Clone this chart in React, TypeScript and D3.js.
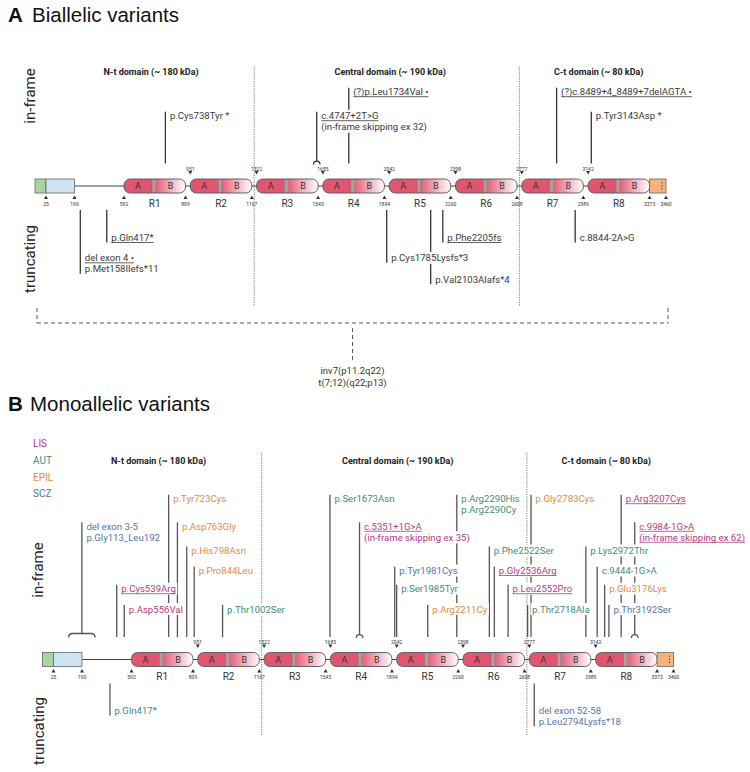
import React from 'react';
import * as d3 from 'd3';

const FONT = 'Roboto, "Noto Sans", "DejaVu Sans", sans-serif';
const TITLE_FONT = '"Liberation Sans", Arial, Helvetica, sans-serif';

// ---------- protein schematic data ----------
const aaBreaks = [1, 25, 190, 592, 809, 951, 1167, 1322, 1545, 1685, 1894, 2042, 2260, 2398, 2608, 2777, 2989, 3142, 3373, 3460];
const repeatNames = ['R1', 'R2', 'R3', 'R4', 'R5', 'R6', 'R7', 'R8'];
const repeatStarts = [592, 951, 1322, 1685, 2042, 2398, 2777, 3142];
const repeatEnds = [809, 1167, 1545, 1894, 2260, 2608, 2989, 3373];
const topTicks = [951, 1322, 1685, 2042, 2398, 2777, 3142];
const bottomTicks = [25, 190, 592, 809, 1167, 1545, 1894, 2260, 2608, 2989, 3373, 3460];
const domainTitles = ['N-t domain (~ 180 kDa)', 'Central domain (~ 190 kDa)', 'C-t domain (~ 80 kDa)'];
const domainSplits = [[1167, 1322], [2608, 2777]];

// ---------- categories ----------
const categories = ['LIS', 'AUT', 'EPIL', 'SCZ'];
const categoryColors = ['#b63a80', '#3f8c78', '#e38a3c', '#5a73a8'];

type Variant = { lines: string[]; pos?: number; span?: [number, number]; tier: number; cat?: string; ul?: number; splice?: boolean };

// ---------- A: biallelic ----------
const biallelicInFrame: Variant[] = [
  { lines: ['p.Cys738Tyr *'], pos: 738, tier: 1 },
  { lines: ['(?)p.Leu1734Val •'], pos: 1773, tier: 0, ul: 1 },
  { lines: ['c.4747+2T>G', '(in-frame skipping ex 32)'], pos: 1540, tier: 1, ul: 1, splice: true },
  { lines: ['(?)c.8489+4_8489+7delAGTA •'], pos: 2897, tier: 0, ul: 1 },
  { lines: ['p.Tyr3143Asp *'], pos: 3154, tier: 1 },
];
const biallelicTruncating: Variant[] = [
  { lines: ['del exon 4 •', 'p.Met158Ilefs*11'], pos: 237, tier: 1, ul: 1 },
  { lines: ['p.Gln417*'], pos: 452, tier: 0, ul: 1 },
  { lines: ['p.Cys1785Lysfs*3'], pos: 1965, tier: 1 },
  { lines: ['p.Val2103Alafs*4'], pos: 2189, tier: 2 },
  { lines: ['p.Phe2205fs'], pos: 2232, tier: 0, ul: 1 },
  { lines: ['c.8844-2A>G'], pos: 2961, tier: 0 },
];
const rearrangementLabels = ['inv7(p11.2q22)', 't(7;12)(q22;p13)'];

// ---------- B: monoallelic ----------
const monoallelicInFrame: Variant[] = [
  { lines: ['del exon 3-5', 'p.Gly113_Leu192'], span: [113, 296], tier: 1, cat: 'SCZ' },
  { lines: ['p.Cys539Arg'], pos: 472, tier: 4, cat: 'LIS', ul: 1 },
  { lines: ['p.Asp556Val'], pos: 533, tier: 5, cat: 'LIS' },
  { lines: ['p.Tyr723Cys'], pos: 723, tier: 0, cat: 'EPIL' },
  { lines: ['p.Asp763Gly'], pos: 754, tier: 1, cat: 'EPIL' },
  { lines: ['p.His798Asn'], pos: 787, tier: 2, cat: 'EPIL' },
  { lines: ['p.Pro844Leu'], pos: 844, tier: 3, cat: 'EPIL' },
  { lines: ['p.Thr1002Ser'], pos: 1038, tier: 5, cat: 'AUT' },
  { lines: ['p.Ser1673Asn'], pos: 1673, tier: 0, cat: 'AUT' },
  { lines: ['c.5351+1G>A', '(in-frame skipping ex 35)'], pos: 1784, tier: 1, cat: 'LIS', ul: 1, splice: true },
  { lines: ['p.Tyr1981Cys'], pos: 1981, tier: 3, cat: 'SCZ' },
  { lines: ['p.Ser1985Tyr'], pos: 2040, tier: 4, cat: 'AUT' },
  { lines: ['p.Arg2211Cy'], pos: 2152, tier: 5, cat: 'EPIL' },
  { lines: ['p.Arg2290His', 'p.Arg2290Cy'], pos: 2255, tier: 0, cat: 'AUT' },
  { lines: ['p.Phe2522Ser'], pos: 2488, tier: 2, cat: 'AUT' },
  { lines: ['p.Gly2536Arg'], pos: 2505, tier: 3, cat: 'LIS', ul: 1 },
  { lines: ['p.Leu2552Pro'], pos: 2552, tier: 4, cat: 'LIS', ul: 1 },
  { lines: ['p.Thr2718Ala'], pos: 2718, tier: 5, cat: 'AUT' },
  { lines: ['p.Gly2783Cys'], pos: 2783, tier: 0, cat: 'EPIL' },
  { lines: ['p.Lys2972Thr'], pos: 2972, tier: 2, cat: 'AUT' },
  { lines: ['c.9444-1G>A'], pos: 3148, tier: 3, cat: 'AUT' },
  { lines: ['p.Glu3176Lys'], pos: 3176, tier: 4, cat: 'EPIL' },
  { lines: ['p.Thr3192Ser'], pos: 3192, tier: 5, cat: 'SCZ' },
  { lines: ['p.Arg3207Cys'], pos: 3238, tier: 0, cat: 'LIS', ul: 1 },
  { lines: ['c.9984-1G>A', '(in-frame skipping ex 62)'], pos: 3289, tier: 1, cat: 'LIS', ul: 2, splice: true },
];
const monoallelicTruncating: Variant[] = [
  { lines: ['p.Gln417*'], pos: 417, tier: 0, cat: 'AUT' },
  { lines: ['del exon 52-58', 'p.Leu2794Lysfs*18'], pos: 2794, tier: 0, cat: 'SCZ' },
];

// ---------- layout ----------
const LAYOUT = { x0: 35, green: 11, blue: 28.5, linker: 49.5, rep: 61.5, gap: 4.8, tail: 16.4 };
function buildRange() {
  const r = [LAYOUT.x0, LAYOUT.x0 + LAYOUT.green, LAYOUT.x0 + LAYOUT.green + LAYOUT.blue];
  let x = r[2] + LAYOUT.linker;
  for (let i = 0; i < 8; i++) {
    r.push(x);
    r.push(x + LAYOUT.rep);
    x += LAYOUT.rep + LAYOUT.gap;
  }
  r.push(r[r.length - 1] + LAYOUT.tail);
  return r;
}
const FS = 9.6;
const LH = 11;

let ctx: CanvasRenderingContext2D | null = null;
function tw(t: string, size: number, weight = 400) {
  if (!ctx && typeof document !== 'undefined') ctx = document.createElement('canvas').getContext('2d');
  if (!ctx) return t.length * size * 0.52;
  ctx.font = `${weight} ${size}px Roboto`;
  return ctx.measureText(t).width;
}
const catColor = (c?: string) => (c ? categoryColors[categories.indexOf(c)] : '#3a3a3a');

function Protein({ x, dx, cy, id }: { x: d3.ScaleLinear<number, number>; dx: number; cy: number; id: string }) {
  const h = 14;
  const top = cy - h / 2;
  const X = (a: number) => x(a) + dx;
  return (
    <g>
      <line x1={X(190)} x2={X(3373)} y1={cy} y2={cy} stroke="#444" strokeWidth={1.2} />
      <rect x={X(1)} y={top} width={X(25) - X(1)} height={h} fill="#a8d49f" stroke="#666" strokeWidth={0.8} />
      <rect x={X(25)} y={top} width={X(190) - X(25)} height={h} fill="#cfe4f2" stroke="#666" strokeWidth={0.8} />
      {repeatStarts.map((s, i) => {
        const x1 = X(s), x2 = X(repeatEnds[i]);
        const w = x2 - x1;
        const aW = w * 0.455, dW = w * 0.058;
        const cid = `${id}-clip-${i}`;
        return (
          <g key={i}>
            <clipPath id={cid}><rect x={x1} y={top} width={w} height={h} rx={6} ry={6} /></clipPath>
            <g clipPath={`url(#${cid})`}>
              <rect x={x1} y={top} width={aW} height={h} fill="#e0566f" />
              <rect x={x1 + aW} y={top} width={dW} height={h} fill="#a9a2a2" stroke="#666" strokeWidth={0.5} />
              <rect x={x1 + aW + dW} y={top} width={w - aW - dW} height={h} fill={`url(#${id}-grad)`} />
            </g>
            <rect x={x1} y={top} width={w} height={h} rx={6} ry={6} fill="none" stroke="#555" strokeWidth={0.9} />
            <text x={x1 + aW / 2} y={cy} fontSize={9} fill="#333" textAnchor="middle" dominantBaseline="central" fontFamily={FONT}>A</text>
            <text x={x1 + aW + dW + (w - aW - dW) / 2} y={cy} fontSize={9} fill="#333" textAnchor="middle" dominantBaseline="central" fontFamily={FONT}>B</text>
            <text x={x1 + w / 2} y={cy + 17} fontSize={10} fill="#333" textAnchor="middle" dominantBaseline="central" fontFamily={FONT}>{repeatNames[i]}</text>
          </g>
        );
      })}
      <rect x={X(3373)} y={top} width={X(3460) - X(3373)} height={h} fill="#f6b37c" stroke="#666" strokeWidth={0.8} />
      <line x1={X(3373) + 0.75 * (X(3460) - X(3373))} x2={X(3373) + 0.75 * (X(3460) - X(3373))} y1={top + 3} y2={top + h - 3} stroke="#444" strokeWidth={1} strokeDasharray="1.5,1.5" />
      {topTicks.map((t) => (
        <g key={'t' + t}>
          <path d={`M${X(t) - 2},${cy - 15} L${X(t) + 2},${cy - 15} L${X(t)},${cy - 11.5} Z`} fill="#333" />
          <text x={X(t)} y={cy - 17.5} fontSize={5} fill="#333" textAnchor="middle" dominantBaseline="central" fontFamily={FONT}>{t}</text>
        </g>
      ))}
      {bottomTicks.map((t) => (
        <g key={'b' + t}>
          <path d={`M${X(t) - 2},${cy + 13} L${X(t) + 2},${cy + 13} L${X(t)},${cy + 9.5} Z`} fill="#333" />
          <text x={X(t)} y={cy + 17.5} fontSize={5} fill="#333" textAnchor="middle" dominantBaseline="central" fontFamily={FONT}>{t}</text>
        </g>
      ))}
    </g>
  );
}

function buildMarks(list: Variant[], mode: 'in' | 'tr', x: d3.ScaleLinear<number, number>, dx: number, cy: number, tiers: number[], lineColor: string, key: string) {
  const lines: React.ReactNode[] = [];
  const bgs: React.ReactNode[] = [];
  const texts: React.ReactNode[] = [];
  list.forEach((v, i) => {
    const color = catColor(v.cat);
    const ty0 = tiers[v.tier];
    let lx: number;
    if (v.span) {
      const a = x(v.span[0]) + dx, b = x(v.span[1]) + dx;
      lx = (a + b) / 2;
      const yb = cy - 26, ye = cy - 22;
      lines.push(<path key={`${key}-br${i}`} d={`M${a},${ye} Q${a},${yb} ${a + 4},${yb} L${b - 4},${yb} Q${b},${yb} ${b},${ye}`} fill="none" stroke={lineColor} strokeWidth={1.3} />);
    } else lx = x(v.pos as number) + dx;
    if (mode === 'in') {
      const top = ty0 - 4;
      let bottom = cy - 22.5;
      if (v.splice) {
        const r = 3.3, yc = cy - 21.5;
        bottom = yc - r;
        lines.push(<path key={`${key}-arc${i}`} d={`M${lx - r},${yc} A${r},${r} 0 0 1 ${lx + r},${yc}`} fill="none" stroke={lineColor} strokeWidth={1.3} />);
      }
      if (v.span) bottom = cy - 26;
      lines.push(<line key={`${key}-l${i}`} x1={lx} x2={lx} y1={top} y2={bottom} stroke={lineColor} strokeWidth={1.3} />);
    } else {
      const top = cy + 24;
      const bottom = ty0 + (v.lines.length - 1) * LH + 5;
      lines.push(<line key={`${key}-l${i}`} x1={lx} x2={lx} y1={top} y2={bottom} stroke={lineColor} strokeWidth={1.3} />);
    }
    v.lines.forEach((t, j) => {
      const ty = ty0 + j * LH;
      const w = tw(t, FS);
      const tx = lx + 4.5;
      bgs.push(<rect key={`${key}-bg${i}-${j}`} x={tx - 1.5} y={ty - 6} width={w + 3} height={12} fill="#fff" />);
      texts.push(<text key={`${key}-t${i}-${j}`} x={tx} y={ty} fontSize={FS} fill={color} dominantBaseline="central" fontFamily={FONT}>{t}</text>);
      if (j < (v.ul || 0)) texts.push(<line key={`${key}-u${i}-${j}`} x1={tx} x2={tx + w} y1={ty + 5} y2={ty + 5} stroke={color} strokeWidth={0.8} />);
    });
  });
  return { lines, bgs, texts };
}

export default function App() {
  const x = d3.scaleLinear().domain(aaBreaks).range(buildRange());
  const A = { dx: 0, cy: 186 };
  const B = { dx: 7.5, cy: 659.5 };
  const sepX = domainSplits.map(([a, b]) => (x(a) + x(b)) / 2);
  const titleX = [(x(25) + sepX[0]) / 2 + 1, (sepX[0] + sepX[1]) / 2 + 3.5, (sepX[1] + x(3460)) / 2 + 6];

  const aIn = buildMarks(biallelicInFrame, 'in', x, A.dx, A.cy, [91.7, 115.7], '#333', 'ai');
  const aTr = buildMarks(biallelicTruncating, 'tr', x, A.dx, A.cy, [237.5, 257.8, 279.3], '#333', 'at');
  const bIn = buildMarks(monoallelicInFrame, 'in', x, B.dx, B.cy, [498.7, 526.3, 550.5, 570.5, 588.7, 609], '#555', 'bi');
  const bTr = buildMarks(monoallelicTruncating, 'tr', x, B.dx, B.cy, [710.5], '#555', 'bt');

  const bl = x(1) + 2, br = x(3460) + 2, bmid = (bl + br) / 2;

  return (
    <svg width={750} height={772} style={{ position: 'absolute', left: 0, top: 0, background: '#fff' }} fontFamily={FONT}>
      <defs>
        {['A', 'B'].map((p) => (
          <linearGradient key={p} id={`${p}-grad`} x1="0" x2="1" y1="0" y2="0">
            <stop offset="0%" stopColor="#e2607a" />
            <stop offset="100%" stopColor="#ffffff" />
          </linearGradient>
        ))}
      </defs>
      <rect x={0} y={0} width={750} height={772} fill="#fff" />

      {/* Titles */}
      <text x={8} y={22} fontFamily={TITLE_FONT} fontSize={20.5} fontWeight="bold" fill="#111">A</text>
      <text x={32} y={22} fontFamily={TITLE_FONT} fontSize={20.5} fill="#111">Biallelic variants</text>
      <text x={8} y={411} fontFamily={TITLE_FONT} fontSize={20.5} fontWeight="bold" fill="#111">B</text>
      <text x={30} y={411} fontFamily={TITLE_FONT} fontSize={20.5} fill="#111">Monoallelic variants</text>

      {/* side labels */}
      <text transform="translate(30,96) rotate(-90)" fontSize={15} fill="#222" textAnchor="middle" dominantBaseline="central">in-frame</text>
      <text transform="translate(30,259) rotate(-90)" fontSize={15} fill="#222" textAnchor="middle" dominantBaseline="central">truncating</text>
      <text transform="translate(38,570) rotate(-90)" fontSize={15} fill="#222" textAnchor="middle" dominantBaseline="central">in-frame</text>
      <text transform="translate(39,731) rotate(-90)" fontSize={15} fill="#222" textAnchor="middle" dominantBaseline="central">truncating</text>

      {/* legend */}
      {categories.map((c, i) => (
        <text key={c} x={33} y={443.7 + i * 16.7} fontSize={10} fill={categoryColors[i]} dominantBaseline="central">{c}</text>
      ))}

      {/* domain titles */}
      {domainTitles.map((t, i) => (
        <g key={t}>
          <text x={titleX[i] + A.dx} y={72.3} fontSize={9} fontWeight="bold" fill="#222" textAnchor="middle" dominantBaseline="central">{t}</text>
          <text x={titleX[i] + B.dx} y={461} fontSize={9} fontWeight="bold" fill="#222" textAnchor="middle" dominantBaseline="central">{t}</text>
        </g>
      ))}

      {/* separators */}
      {sepX.map((s, i) => (
        <g key={'sep' + i}>
          <line x1={s + A.dx} x2={s + A.dx} y1={66.7} y2={306.7} stroke="#777" strokeWidth={1} strokeDasharray="1.2,1.2" />
          <line x1={s + B.dx} x2={s + B.dx} y1={453} y2={736} stroke="#777" strokeWidth={1} strokeDasharray="1.2,1.2" />
        </g>
      ))}

      {/* variant lines */}
      {aIn.lines}{aTr.lines}{bIn.lines}{bTr.lines}

      {/* proteins */}
      <Protein x={x} dx={A.dx} cy={A.cy} id="A" />
      <Protein x={x} dx={B.dx} cy={B.cy} id="B" />

      {/* label backgrounds and texts */}
      {aIn.bgs}{aTr.bgs}{bIn.bgs}{bTr.bgs}
      {aIn.texts}{aTr.texts}{bIn.texts}{bTr.texts}

      {/* rearrangement bracket */}
      <g stroke="#555" strokeWidth={1} fill="none" strokeDasharray="4,3">
        <line x1={bl} x2={br} y1={323} y2={323} />
        <line x1={bl} x2={bl} y1={308} y2={323} />
        <line x1={br} x2={br} y1={308} y2={323} />
        <line x1={bmid} x2={bmid} y1={328} y2={360} />
      </g>
      {rearrangementLabels.map((t, i) => (
        <text key={t} x={bmid} y={370 + i * 12} fontSize={9.5} fill="#333" textAnchor="middle" dominantBaseline="central">{t}</text>
      ))}
    </svg>
  );
}
